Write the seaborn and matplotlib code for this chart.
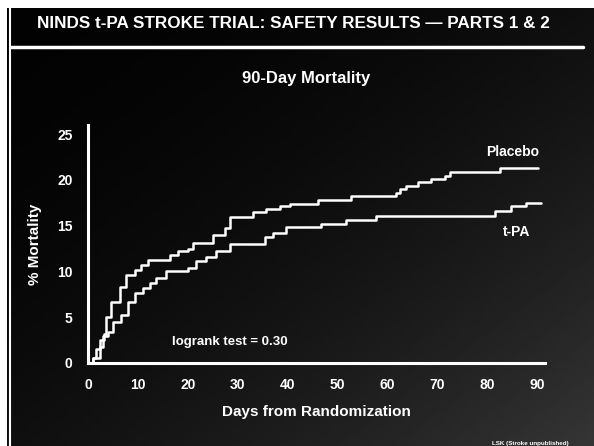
# NINDS t-PA stroke trial - 90-day mortality (slide recreation)

import numpy as np
import matplotlib
matplotlib.use("Agg")
import matplotlib.pyplot as plt
from matplotlib.lines import Line2D
import pandas as pd
import seaborn as sns

# Data (step curves, value after each step)
placebo_days = [0, 1.0, 1.7, 2.5, 3.2, 3.7, 4.7, 6.4, 7.7, 9.4, 10.7, 12.1, 16.4, 18.1,
                20.1, 21.1, 25.1, 27.4, 28.4, 33.1, 35.7, 38.4, 40.4, 46.0, 52.7,
                61.7, 62.4, 63.7, 66.1, 68.7, 71.4, 72.4, 82.4, 90.1]
placebo_pct = [0, 0.5, 1.5, 2.5, 3.2, 5.0, 6.7, 8.3, 9.6, 10.2, 10.7, 11.2, 11.8, 12.2,
               12.5, 13.1, 14.0, 14.7, 16.0, 16.5, 16.8, 17.1, 17.4, 17.8, 18.2,
               18.6, 19.0, 19.3, 19.8, 20.1, 20.4, 20.9, 21.3, 21.3]

tpa_days = [0, 1.1, 2.4, 3.1, 4.1, 5.1, 6.7, 8.1, 9.4, 11.1, 12.4, 13.7, 15.7, 20.1,
            21.7, 23.7, 25.7, 28.4, 35.4, 37.1, 39.7, 46.7, 51.7, 57.7, 81.4, 84.7,
            87.7, 90.7]
tpa_pct = [0, 0.6, 1.8, 2.9, 3.4, 4.5, 5.2, 6.7, 7.6, 8.2, 8.7, 9.3, 10.0, 10.4,
           11.1, 11.6, 12.2, 13.0, 13.8, 14.2, 14.9, 15.2, 15.6, 16.1, 16.6, 17.1,
           17.5, 17.5]

x_ticks = [0, 10, 20, 30, 40, 50, 60, 70, 80, 90]
y_ticks = [0, 5, 10, 15, 20, 25]

curves = pd.concat([
    pd.DataFrame({"Days": placebo_days, "Mortality": placebo_pct, "Group": "Placebo"}),
    pd.DataFrame({"Days": tpa_days, "Mortality": tpa_pct, "Group": "t-PA"}),
])

sns.set_style("dark")
plt.rcParams["font.family"] = ["Liberation Sans", "DejaVu Sans"]
plt.rcParams["font.weight"] = "bold"

W, H = 594, 446
fig = plt.figure(figsize=(W / 100, H / 100), dpi=100, facecolor="white")

# slide background: black fading to dark grey at lower right
bg = fig.add_axes([7 / W, 0, 1 - 7 / W, 1 - 8 / H])
gx, gy = np.meshgrid(np.linspace(0, 1, 200), np.linspace(0, 1, 150))
shade = 0.01 + 0.2 * ((gx + gy) / 2) ** 2.0
bg.imshow(shade, cmap="gray", vmin=0, vmax=1, aspect="auto", origin="upper",
          extent=[0, 1, 0, 1])
bg.set_axis_off()

# slide frame lines
fig.add_artist(Line2D([9.5 / W, 9.5 / W], [0, 1 - 8 / H], color="white", lw=1.5))
fig.add_artist(Line2D([11 / W, 583 / W], [1 - 47 / H, 1 - 47 / H], color="white",
                      lw=2.5, solid_capstyle="round"))

fig.text(293 / W, 1 - 23 / H, "NINDS t-PA STROKE TRIAL: SAFETY RESULTS \u2014 PARTS 1 & 2",
         color="white", fontsize=12.3, fontweight="bold", ha="center", va="center")
fig.text(306 / W, 1 - 78 / H, "90-Day Mortality", color="white", fontsize=12,
         fontweight="bold", ha="center", va="center")
fig.text(530 / W, 1 - 443 / H, "LSK (Stroke unpublished)", color="white", fontsize=4.5,
         fontweight="bold", ha="center", va="center")

ax = fig.add_axes([88 / W, 1 - 363 / H, (545 - 88) / W, (363 - 125) / H])
ax.set_facecolor("none")

sns.lineplot(data=curves, x="Days", y="Mortality", hue="Group",
             palette={"Placebo": "white", "t-PA": "white"},
             drawstyle="steps-post", linewidth=1.8, legend=False, ax=ax)

ax.set_xlim(0, 91.5)
ax.set_ylim(0, 26)
ax.set_xticks(x_ticks)
ax.set_yticks(y_ticks)
ax.grid(False)
for side in ["top", "right"]:
    ax.spines[side].set_visible(False)
for side in ["left", "bottom"]:
    ax.spines[side].set_color("white")
    ax.spines[side].set_linewidth(2.2)
ax.tick_params(colors="white", direction="out", length=6, width=2.2, labelsize=10,
               pad=5)
for lab in ax.get_xticklabels() + ax.get_yticklabels():
    lab.set_fontweight("bold")

ax.set_xlabel("Days from Randomization", color="white", fontsize=11,
              fontweight="bold", labelpad=9)
ax.set_ylabel("% Mortality", color="white", fontsize=11, fontweight="bold",
              labelpad=11)

ax.text(85, 23.1, "Placebo", color="white", fontsize=10, fontweight="bold",
        ha="center", va="center")
ax.text(85.8, 14.3, "t-PA", color="white", fontsize=10, fontweight="bold",
        ha="center", va="center")
ax.text(28.4, 2.3, "logrank test = 0.30", color="white", fontsize=9.5,
        fontweight="bold", ha="center", va="center")

fig.savefig("out.png", dpi=100, facecolor="white")
